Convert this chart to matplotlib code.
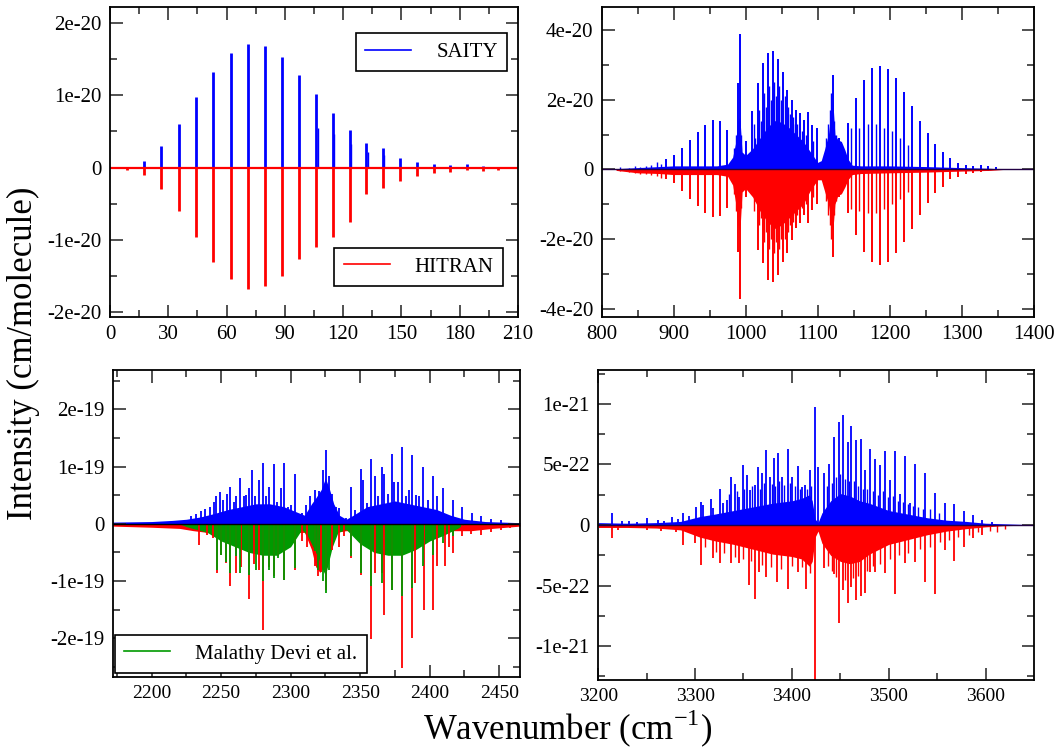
import matplotlib
matplotlib.use("Agg")
import matplotlib.pyplot as plt
from matplotlib.lines import Line2D

plt.rcParams['font.family'] = ['Liberation Serif', 'DejaVu Serif']
plt.rcParams['mathtext.fontset'] = 'custom'
plt.rcParams['mathtext.rm'] = 'Liberation Serif'

BLUE = '#0000ff'
RED = '#ff0000'
GREEN = '#009a00'

# ---------------- panel 1: 0-210 cm-1 (units 1e-20) ----------------
tl_x = [8.6, 17.3, 26.4, 35.5, 44.3, 53.2, 62.1, 70.9, 79.6, 88.5, 97.3, 106.0,
        114.6, 123.4, 131.9, 140.5, 149.3, 157.8, 166.6, 175.2, 183.6, 192.1, 199.9]
tl_saity = [0.005, 0.09, 0.30, 0.61, 0.98, 1.33, 1.59, 1.72, 1.69, 1.53, 1.29, 1.02,
            0.75, 0.52, 0.34, 0.27, 0.13, 0.075, 0.045, 0.03, 0.05, 0.015, 0.01]
tl_hitran = [-0.03, -0.10, -0.30, -0.60, -0.96, -1.31, -1.55, -1.68, -1.65, -1.51, -1.27, -1.10,
             -0.97, -0.76, -0.37, -0.28, -0.19, -0.12, -0.07, -0.065, -0.04, -0.055, -0.03]
tl_saity2_x = [106.8, 115.4, 124.2, 132.6, 141.2]
tl_saity2 = [0.55, 0.47, 0.32, 0.22, 0.18]

# ---------------- panel 2: 800-1400 cm-1 (units 1e-20) ----------------
tr_x = [888.9, 900.4, 911.1, 922.6, 933.3, 943.5, 954.2, 964.3, 974.5, 988.9,
        991.7, 1000.4, 1008.3, 1016.7, 1023.6, 1030.6, 1037.5, 1044.4, 1051.4, 1056.9,
        1063.9, 1069.9, 1075.4, 1081.4, 1087.0, 1091.7, 1098.6, 1120.8, 1130.0, 1141.6,
        1152.8, 1164.3, 1175.4, 1186.5, 1197.6, 1208.7, 1219.9, 1231.0, 1242.1, 1253.2,
        1262.9, 1273.6, 1284.3, 1294.9, 1305.6, 1316.2, 1326.8, 1337.0, 1347.2]
tr_saity = [0.29, 0.41, 0.62, 0.84, 1.07, 1.27, 1.41, 1.38, 1.13, 2.47,
            3.89, 0.80, 1.68, 2.47, 3.05, 3.35, 3.39, 3.16, 2.79, 2.28,
            1.99, 1.71, 1.61, 1.42, 1.66, 1.27, 1.18, 2.71, 0.89, 1.32,
            2.04, 2.57, 2.90, 2.98, 2.87, 2.61, 2.23, 1.82, 1.39, 1.03,
            0.73, 0.50, 0.32, 0.18, 0.12, 0.10, 0.12, 0.10, 0.08]
tr_hitran = [-0.29, -0.40, -0.62, -0.85, -1.05, -1.24, -1.36, -1.33, -1.10, -2.37,
             -3.71, -0.79, -0.75, -2.32, -2.70, -3.18, -3.23, -3.04, -2.65, -2.41,
             -2.03, -1.69, -1.55, -1.31, -1.55, -1.17, -1.00, -2.51, -0.79, -1.25,
             -1.89, -2.37, -2.67, -2.75, -2.67, -2.41, -2.08, -1.70, -1.31, -0.98,
             -0.69, -0.50, -0.29, -0.21, -0.13, -0.10, -0.07, -0.04, -0.03]
# weaker lines between the main series
tr2_x = [826, 838, 846, 853, 861, 869, 877, 883, 984, 986.5, 994,
         1011, 1013.5, 1019, 1021, 1026, 1028, 1033, 1035, 1040, 1042, 1047, 1049, 1054,
         1059, 1061, 1066, 1068, 1072, 1078, 1084, 1094,
         1112, 1115, 1117, 1119, 1123, 1126,
         1147, 1158, 1169.5, 1181, 1192, 1203, 1214, 1225]
tr2_saity = [0.06, 0.05, 0.09, 0.08, 0.10, 0.12, 0.20, 0.15, 0.60, 1.00, 1.00,
             1.30, 0.90, 1.70, 1.40, 2.20, 1.80, 2.40, 2.00, 2.50, 2.10, 2.40, 2.00, 2.10,
             1.80, 1.60, 1.50, 1.30, 1.30, 1.10, 1.00, 0.80,
             0.90, 1.30, 1.70, 2.20, 1.40, 1.00,
             1.18, 1.20, 1.30, 1.30, 1.20, 1.10, 0.90, 0.70]
tr2_hitran = [-0.05, -0.08, -0.10, -0.12, -0.12, -0.15, -0.20, -0.25, -0.70, -1.20, -1.10,
              -1.20, -0.90, -1.60, -1.40, -2.10, -1.80, -2.30, -2.00, -2.40, -2.10, -2.30, -2.00, -2.00,
              -1.80, -1.60, -1.50, -1.30, -1.30, -1.10, -1.00, -0.80,
              -0.90, -1.30, -1.60, -2.00, -1.30, -0.90,
              -1.15, -1.20, -1.25, -1.25, -1.15, -1.00, -0.85, -0.65]
tr_env_x = [820, 850, 880, 900, 930, 960, 975, 982, 986, 989, 992, 995, 1000, 1010, 1020, 1030,
            1040, 1050, 1060, 1070, 1080, 1090, 1100, 1105, 1110, 1115, 1118, 1121, 1124, 1128,
            1133, 1138, 1142, 1148, 1160, 1200, 1250, 1300, 1340, 1360]
tr_env_saity = [0.02, 0.05, 0.08, 0.10, 0.10, 0.10, 0.15, 0.35, 0.75, 1.40, 1.50, 0.50, 0.40, 0.60, 0.90, 1.20,
                1.40, 1.35, 1.20, 1.00, 0.80, 0.50, 0.20, 0.25, 0.60, 1.00, 1.50, 2.00, 1.00, 0.85,
                0.80, 0.55, 0.30, 0.12, 0.10, 0.10, 0.08, 0.05, 0.03, 0.0]
tr_env_hitran = [-0.03, -0.10, -0.12, -0.15, -0.15, -0.15, -0.20, -0.45, -0.95, -1.60, -1.80, -0.65, -0.55, -0.80, -1.20, -1.50,
                 -1.70, -1.60, -1.40, -1.20, -1.00, -0.60, -0.30, -0.30, -0.65, -1.00, -1.40, -1.80, -1.00, -0.75,
                 -0.70, -0.50, -0.30, -0.15, -0.12, -0.10, -0.08, -0.05, -0.03, 0.0]

# ---------------- panel 3: 2172-2465 cm-1 (units 1e-19) ----------------
bl_saity_x = [2228, 2231.7, 2235.3, 2238.6, 2242, 2244.8, 2246.5, 2249.1, 2251.5, 2254,
              2256.4, 2259, 2261, 2263.5, 2266.5, 2268, 2269.8, 2271.9, 2274.5, 2277,
              2279.9, 2282, 2284.7, 2287.8, 2290, 2292.8, 2295.5, 2298, 2300, 2303.1,
              2307.9, 2310.8, 2314, 2317.8, 2320.6, 2323, 2325.4, 2327.8, 2330, 2332.6,
              2335, 2340, 2343.4, 2346.5, 2350.6, 2352.2, 2355, 2358, 2360.4, 2363,
              2365.7, 2367.2, 2370, 2372.7, 2374.6, 2377.5, 2380.4, 2383, 2385, 2387.5,
              2390, 2392, 2395.2, 2399, 2402.2, 2405.5, 2409.4, 2416.5, 2423.2, 2430.4,
              2436.9, 2444, 2451]
bl_saity = [0.14, 0.17, 0.22, 0.26, 0.30, 0.39, 0.48, 0.55, 0.42, 0.53,
            0.65, 0.38, 0.48, 0.81, 0.49, 0.50, 0.62, 0.95, 0.48, 0.77,
            1.06, 0.48, 0.65, 1.04, 0.38, 0.62, 1.06, 0.30, 0.33, 0.88,
            0.19, 0.33, 0.48, 0.59, 0.58, 0.94, 1.30, 0.83, 0.53, 0.30,
            0.27, 0.10, 0.64, 0.24, 0.96, 0.77, 0.36, 1.13, 0.84, 0.48,
            1.00, 0.88, 0.53, 1.22, 0.74, 0.74, 1.35, 0.48, 0.59, 1.20,
            0.51, 0.48, 1.00, 0.42, 0.83, 0.48, 0.62, 0.42, 0.29, 0.19,
            0.13, 0.08, 0.06]
bl_hitran_x = [2234, 2240, 2244, 2246.8, 2250, 2253.2, 2256.4, 2260.7, 2264, 2270.3,
               2274, 2277, 2279.9, 2284.7, 2287.8, 2291, 2295.5, 2303, 2308, 2312,
               2317.8, 2320, 2322, 2325.4, 2330, 2335, 2338.6, 2343.4, 2350.6, 2358,
               2360.4, 2365.7, 2367, 2372.7, 2380.4, 2387.5, 2389.7, 2395.8, 2402.5, 2405.5,
               2411, 2414, 2417, 2423, 2430, 2437, 2444, 2451, 2458]
bl_hitran = [-0.37, -0.20, -0.25, -0.86, -0.55, -0.69, -1.09, -0.86, -0.75, -1.31,
             -0.70, -0.80, -1.85, -0.75, -0.92, -0.57, -0.98, -0.80, -0.30, -0.40,
             -0.74, -0.92, -0.85, -1.15, -0.45, -0.40, -0.22, -0.60, -0.89, -2.02,
             -0.86, -0.86, -1.59, -1.15, -2.52, -1.99, -1.03, -1.50, -1.50, -0.74,
             -0.74, -0.40, -0.51, -0.22, -0.17, -0.20, -0.15, -0.10, -0.08]
bl_malathy_x = [2246.8, 2250, 2253.2, 2256.4, 2260.7, 2263.5, 2270.3, 2275, 2279.9, 2284.7,
                2287.8, 2291, 2295.5, 2303, 2317.8, 2320, 2323, 2325.4, 2327.8, 2343.4,
                2350.6, 2358, 2365.7, 2372.7, 2380.4, 2387.5, 2395.2, 2402.2, 2409.4, 2416.5]
bl_malathy = [-0.80, -0.55, -0.66, -0.86, -0.57, -0.86, -0.89, -0.80, -1.00, -0.80,
              -0.95, -0.60, -0.98, -0.77, -0.48, -0.80, -1.00, -1.21, -0.80, -0.57,
              -0.86, -1.09, -1.03, -1.15, -1.27, -1.12, -0.74, -0.55, -0.34, -0.22]
bl_env_x = [2172, 2200, 2215, 2225, 2235, 2245, 2255, 2265, 2275, 2285, 2295, 2305, 2310, 2315, 2318, 2322,
            2325, 2328, 2331, 2335, 2340, 2345, 2355, 2365, 2375, 2385, 2395, 2405, 2415, 2425, 2440, 2465]
bl_env_saity = [0.03, 0.04, 0.06, 0.08, 0.12, 0.18, 0.25, 0.30, 0.35, 0.35, 0.30, 0.20, 0.15, 0.35, 0.45, 0.60,
                0.80, 0.60, 0.35, 0.15, 0.08, 0.15, 0.30, 0.35, 0.40, 0.35, 0.30, 0.25, 0.15, 0.08, 0.04, 0.02]
bl_env_hitran_x = [2172, 2200, 2220, 2230, 2240, 2300, 2310, 2315, 2318, 2321, 2324, 2328, 2332, 2340,
                   2420, 2430, 2445, 2465]
bl_env_hitran = [-0.04, -0.06, -0.08, -0.12, -0.15, -0.15, -0.15, -0.45, -0.75, -0.85, -0.75, -0.40, -0.15, -0.12,
                 -0.12, -0.12, -0.08, -0.04]
bl_env_malathy_x = [2220, 2225, 2240, 2250, 2260, 2270, 2280, 2290, 2300, 2308, 2312, 2316, 2320, 2323,
                    2325, 2327, 2330, 2334, 2340, 2350, 2360, 2370, 2380, 2390, 2400, 2410, 2420, 2425]
bl_env_malathy = [0.0, -0.05, -0.15, -0.30, -0.40, -0.50, -0.55, -0.55, -0.40, -0.10, -0.20, -0.40, -0.60, -0.80,
                  -0.90, -0.70, -0.40, -0.15, -0.10, -0.35, -0.50, -0.55, -0.55, -0.45, -0.30, -0.20, -0.08, 0.0]

# ---------------- panel 4: 3200-3650 cm-1 (units 1e-22) ----------------
br_saity_x = [3213.8, 3225, 3232, 3240, 3250, 3262, 3268, 3275.9, 3282, 3288,
              3293.9, 3301, 3306.2, 3308.6, 3316, 3318.9, 3325.9, 3329.3, 3332.7, 3337.2,
              3341.4, 3345.8, 3349.3, 3353.8, 3356.9, 3361.7, 3365.1, 3369.3, 3373.1, 3376.9,
              3381.7, 3385.5, 3389.7, 3395.5, 3400, 3406.2, 3410.3, 3413.8, 3418.6, 3423.4,
              3426.8, 3433.4, 3438.6, 3443.4, 3448.2, 3452.7, 3457.5, 3461.3, 3466.2, 3470.9,
              3475.8, 3481, 3486.1, 3491.3, 3496.4, 3501.6, 3506.8, 3512, 3516.9, 3522.4,
              3527.5, 3537.8, 3548.2, 3557.8, 3567.5, 3577.5, 3586.8, 3596.5, 3606.8]
br_saity = [1.02, 0.35, 0.30, 0.25, 0.55, 0.40, 0.35, 0.69, 0.50, 0.96,
            0.77, 1.51, 1.92, 1.65, 2.12, 1.37, 2.97, 1.79, 2.06, 3.93,
            3.38, 2.34, 4.95, 4.12, 2.88, 3.30, 4.81, 4.26, 6.18, 3.98,
            5.55, 5.91, 3.98, 6.26, 3.98, 4.86, 3.16, 3.30, 4.53, 9.75,
            4.81, 4.26, 5.03, 7.23, 8.52, 9.07, 6.87, 8.16, 7.00, 7.14,
            4.53, 6.24, 5.49, 4.95, 6.10, 3.70, 6.15, 2.60, 5.74, 1.80,
            5.08, 4.26, 2.61, 1.79, 1.73, 1.18, 0.82, 0.41, 0.27]
br_saity2_x = [3335, 3343, 3351, 3359, 3367, 3371, 3379, 3383, 3387, 3392, 3398, 3403, 3408, 3416, 3420,
               3436, 3441, 3446, 3450, 3455, 3459, 3464, 3468, 3473, 3478, 3484, 3489, 3494, 3499,
               3504, 3510, 3515, 3520, 3525, 3530, 3535, 3543, 3552]
br_saity2 = [2.6, 2.8, 3.0, 3.2, 3.0, 3.5, 3.4, 3.2, 3.6, 3.3, 3.5, 3.2, 3.0, 3.0, 3.2,
             3.2, 3.5, 4.0, 4.2, 3.8, 3.6, 3.6, 3.2, 3.0, 3.0, 2.8, 2.5, 2.8, 2.3,
             2.4, 2.0, 1.9, 1.7, 1.6, 1.5, 1.3, 1.3, 1.0]
br_hitran_x = [3213.8, 3220, 3250, 3265, 3280, 3288, 3300, 3306.2, 3318, 3325.9,
               3337.2, 3345.5, 3356, 3361.7, 3365.8, 3373.5, 3384.7, 3395.5, 3406, 3415,
               3423.4, 3433.4, 3443, 3448.2, 3452.7, 3457.5, 3461.3, 3466.2, 3470.9, 3475.8,
               3481, 3486.1, 3496.4, 3506.8, 3516.9, 3527.5, 3537.8, 3548.2, 3557.8, 3567.5,
               3577.5, 3586.8, 3596.5]
br_hitran = [-1.10, -0.40, -0.40, -0.50, -0.60, -1.65, -1.50, -3.30, -2.75, -3.10,
             -3.10, -3.16, -4.95, -6.13, -3.85, -4.26, -4.67, -5.30, -3.85, -5.30,
             -13.5, -3.57, -4.04, -8.10, -5.36, -6.46, -5.08, -6.18, -5.90, -5.63,
             -3.85, -3.85, -3.98, -5.69, -3.16, -3.02, -4.67, -5.71, -2.06, -2.94,
             -1.79, -1.10, -0.82]
br_hitran2_x = [3310, 3322, 3330, 3341, 3350, 3358, 3369, 3378, 3389, 3400, 3410, 3419,
                3437, 3441, 3446, 3455, 3463, 3468, 3478, 3484, 3491, 3501, 3511, 3520,
                3532, 3543, 3553, 3562, 3572, 3583, 3592, 3605, 3612, 3620]
br_hitran2 = [-1.8, -2.2, -2.3, -2.6, -2.8, -3.0, -3.3, -3.5, -3.6, -3.4, -3.5, -4.0,
              -3.4, -3.8, -4.3, -4.5, -4.4, -4.2, -3.8, -3.4, -3.2, -2.8, -2.5, -2.3,
              -2.0, -1.8, -1.4, -1.2, -1.0, -0.8, -0.6, -0.5, -0.6, -0.3]
br_env_x = [3200, 3230, 3260, 3285, 3295, 3305, 3320, 3340, 3360, 3380, 3400, 3410, 3418, 3421, 3424, 3427,
            3431, 3440, 3450, 3460, 3470, 3480, 3490, 3500, 3520, 3540, 3560, 3580, 3600, 3620, 3640, 3650]
br_env_saity = [0.20, 0.15, 0.20, 0.30, 0.50, 0.70, 0.90, 1.20, 1.50, 1.80, 2.00, 2.20, 2.50, 2.00, 0.50, 0.20,
                1.00, 2.00, 2.60, 2.40, 2.00, 1.80, 1.50, 1.20, 0.90, 0.60, 0.40, 0.30, 0.15, 0.10, 0.05, 0.03]
br_env_hitran = [-0.20, -0.20, -0.25, -0.40, -0.70, -1.00, -1.30, -1.60, -2.00, -2.40, -2.60, -2.80, -3.40, -3.00, -1.00, -0.50,
                 -1.50, -2.50, -3.00, -3.20, -3.00, -2.40, -2.00, -1.60, -1.20, -0.80, -0.50, -0.30, -0.15, -0.05, -0.02, 0.0]


def scaled(vals, unit):
    return [v * unit for v in vals]


def style(ax, xlim, xmaj, xmin, ylim, ymaj, ylab, ymin, xsize=15):
    ax.set_xlim(*xlim)
    ax.set_ylim(*ylim)
    ax.set_xticks(xmaj)
    ax.set_xticklabels([str(v) for v in xmaj], fontsize=xsize)
    ax.set_xticks(xmin, minor=True)
    ax.set_yticks(ymaj)
    ax.set_yticklabels(ylab, fontsize=15)
    ax.set_yticks(ymin, minor=True)
    ax.tick_params(which='both', direction='in', top=True, right=True, color='#222222')
    ax.tick_params(which='major', length=9, width=1.1, pad=6)
    ax.tick_params(which='minor', length=5, width=1.1)
    for s in ax.spines.values():
        s.set_linewidth(1.3)


fig = plt.figure(figsize=(10.6, 7.5), dpi=100)
ax1 = fig.add_axes([0.1038, 0.5777, 0.3849, 0.4133])
ax2 = fig.add_axes([0.5676, 0.5773, 0.4075, 0.4133])
ax3 = fig.add_axes([0.1063, 0.0973, 0.3843, 0.4093])
ax4 = fig.add_axes([0.5644, 0.0933, 0.4110, 0.4133])

# panel 1
u = 1e-20
ax1.vlines(tl_x, 0, scaled(tl_hitran, u), color=RED, lw=2)
ax1.vlines(tl_x, 0, scaled(tl_saity, u), color=BLUE, lw=2)
ax1.vlines(tl_saity2_x, 0, scaled(tl_saity2, u), color=BLUE, lw=1)
ax1.axhline(0, color=RED, lw=1.6)
style(ax1, (0, 210), list(range(0, 211, 30)), list(range(15, 210, 30)),
      (-2.07e-20, 2.23e-20), [-2e-20, -1e-20, 0, 1e-20, 2e-20],
      ['-2e-20', '-1e-20', '0', '1e-20', '2e-20'], [-1.5e-20, -0.5e-20, 0.5e-20, 1.5e-20])

# panel 2
ax2.fill_between(tr_env_x, 0, scaled(tr_env_hitran, u), color=RED, lw=0)
ax2.fill_between(tr_env_x, 0, scaled(tr_env_saity, u), color=BLUE, lw=0)
ax2.vlines(tr_x, 0, scaled(tr_hitran, u), color=RED, lw=1.4)
ax2.vlines(tr2_x, 0, scaled(tr2_hitran, u), color=RED, lw=1)
ax2.vlines(tr_x, 0, scaled(tr_saity, u), color=BLUE, lw=1.4)
ax2.vlines(tr2_x, 0, scaled(tr2_saity, u), color=BLUE, lw=1)
ax2.axhline(0, color='#220044', lw=1)
style(ax2, (800, 1400), list(range(800, 1401, 100)), list(range(850, 1400, 100)),
      (-4.24e-20, 4.66e-20), [-4e-20, -2e-20, 0, 2e-20, 4e-20],
      ['-4e-20', '-2e-20', '0', '2e-20', '4e-20'], [-3e-20, -1e-20, 1e-20, 3e-20])

# panel 3
u = 1e-19
ax3.fill_between(bl_env_x, 0, scaled(bl_env_saity, u), color=BLUE, lw=0)
ax3.fill_between(bl_env_hitran_x, 0, scaled(bl_env_hitran, u), color=RED, lw=0)
ax3.vlines(bl_saity_x, 0, scaled(bl_saity, u), color=BLUE, lw=1.3)
ax3.vlines(bl_hitran_x, 0, scaled(bl_hitran, u), color=RED, lw=1.3)
ax3.fill_between(bl_env_malathy_x, 0, scaled(bl_env_malathy, u), color=GREEN, lw=0)
ax3.vlines(bl_malathy_x, 0, scaled(bl_malathy, u), color=GREEN, lw=1.3)
ax3.axhline(0, color='black', lw=1)
style(ax3, (2172, 2465), list(range(2200, 2451, 50)), list(range(2175, 2465, 50)),
      (-2.68e-19, 2.69e-19), [-2e-19, -1e-19, 0, 1e-19, 2e-19],
      ['-2e-19', '-1e-19', '0', '1e-19', '2e-19'], [-2.5e-19, -1.5e-19, -0.5e-19, 0.5e-19, 1.5e-19, 2.5e-19],
      xsize=14)

# panel 4
u = 1e-22
ax4.fill_between(br_env_x, 0, scaled(br_env_hitran, u), color=RED, lw=0)
ax4.fill_between(br_env_x, 0, scaled(br_env_saity, u), color=BLUE, lw=0)
ax4.vlines(br_hitran2_x, 0, scaled(br_hitran2, u), color=RED, lw=1)
ax4.vlines(br_hitran_x, 0, scaled(br_hitran, u), color=RED, lw=1.3)
ax4.vlines(br_saity2_x, 0, scaled(br_saity2, u), color=BLUE, lw=1)
ax4.vlines(br_saity_x, 0, scaled(br_saity, u), color=BLUE, lw=1.3)
ax4.axhline(0, color='#220044', lw=1)
style(ax4, (3200, 3650), list(range(3200, 3601, 100)), list(range(3250, 3650, 100)),
      (-1.28e-21, 1.28e-21), [-1e-21, -5e-22, 0, 5e-22, 1e-21],
      ['-1e-21', '-5e-22', '0', '5e-22', '1e-21'], [-1.25e-21, -7.5e-22, -2.5e-22, 2.5e-22, 7.5e-22, 1.25e-21],
      xsize=14)

# legends
leg_kw = dict(fontsize=15, frameon=True, fancybox=False, edgecolor='black', framealpha=1,
              borderaxespad=0, handlelength=2.2, handletextpad=1.2, borderpad=0.45)
l1 = ax1.legend([Line2D([], [], color=BLUE, lw=1.2)], ['SAITY'], loc='upper right',
                bbox_to_anchor=(0.973, 0.915), **leg_kw)
l1.get_frame().set_linewidth(1.2)
ax1.add_artist(l1)
l2 = ax1.legend([Line2D([], [], color=RED, lw=1.2)], ['HITRAN'], loc='lower right',
                bbox_to_anchor=(0.963, 0.099), **leg_kw)
l2.get_frame().set_linewidth(1.2)
l3 = ax3.legend([Line2D([], [], color=GREEN, lw=1.2)], ['Malathy Devi et al.'], loc='lower left',
                bbox_to_anchor=(0.006, 0.013), **leg_kw)
l3.get_frame().set_linewidth(1.2)

fig.text(0.022, 0.529, 'Intensity (cm/molecule)', rotation=90, ha='center', va='center', fontsize=25)
fig.text(0.535, 0.0, r'Wavenumber (cm$^{-1}$)', ha='center', va='bottom', fontsize=25)

fig.savefig('out.png', dpi=100)
